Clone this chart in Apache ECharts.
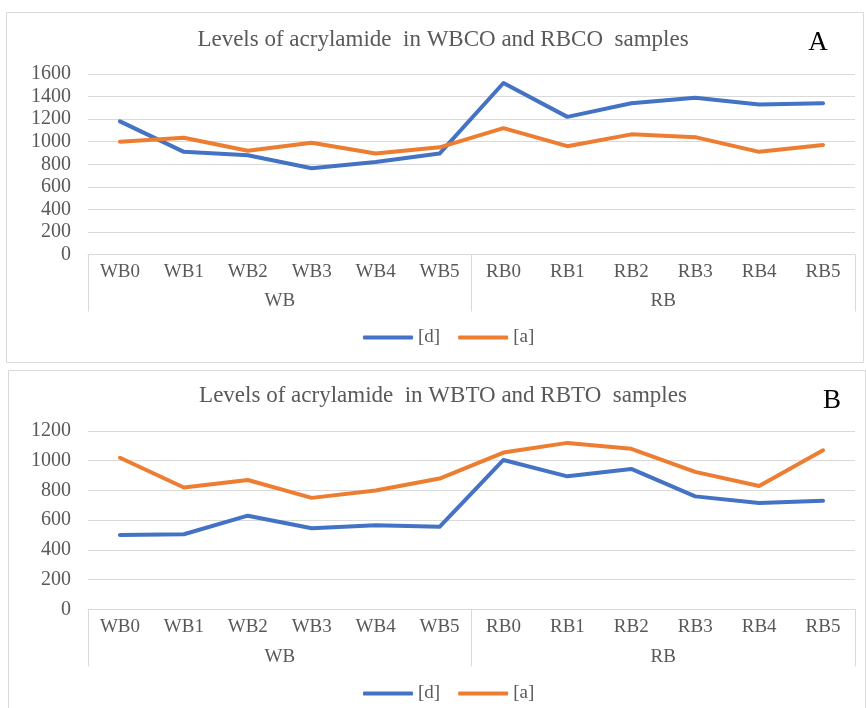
<!DOCTYPE html>
<html>
<head>
<meta charset="utf-8">
<script src="https://cdn.jsdelivr.net/npm/echarts@6/dist/echarts.min.js"></script>
<style>
    html, body { margin: 0; padding: 0; background: #fff; }
    #chart { width: 866px; height: 708px; }
</style>
</head>
<body>
<div id="chart"></div>
<script>
// categories
const categories = ["WB0", "WB1", "WB2", "WB3", "WB4", "WB5", "RB0", "RB1", "RB2", "RB3", "RB4", "RB5"];
const groups = ["WB", "RB"];
// panel A (WBCO / RBCO)
const coD = [1180, 910, 880, 765, 820, 895, 1520, 1220, 1340, 1390, 1330, 1340];
const coA = [1000, 1035, 920, 990, 895, 950, 1120, 960, 1065, 1040, 910, 970];
// panel B (WBTO / RBTO)
const toD = [500, 505, 630, 545, 565, 555, 1005, 895, 945, 760, 715, 730];
const toA = [1020, 820, 870, 750, 800, 880, 1055, 1120, 1080, 925, 830, 1070];

const FONT = "Liberation Serif";
const GREY = "#595959";
const LINE = "#d9d9d9";
const BLUE = "#4472C4";
const ORANGE = "#ED7D31";

function catAxis(grid) {
    return {
        type: "category",
        gridIndex: grid,
        data: categories,
        axisLine: { lineStyle: { color: LINE } },
        axisTick: { show: false },
        axisLabel: { color: GREY, fontFamily: FONT, fontSize: 19, margin: 8 },
    };
}

function groupAxis(grid, tickLen, margin) {
    return {
        type: "category",
        gridIndex: grid,
        position: "bottom",
        data: groups,
        axisLine: { show: false },
        axisTick: { show: true, length: tickLen, lineStyle: { color: LINE } },
        axisLabel: { color: GREY, fontFamily: FONT, fontSize: 19, margin: margin },
    };
}

function valAxis(grid, max) {
    return {
        type: "value",
        gridIndex: grid,
        min: 0,
        max: max,
        interval: 200,
        axisLine: { show: false },
        axisTick: { show: false },
        splitLine: { lineStyle: { color: LINE } },
        axisLabel: {
            color: GREY,
            fontFamily: FONT,
            fontSize: 20,
            margin: 17,
            formatter: (v) => String(v),
        },
    };
}

function lineSeries(name, color, x, y, data) {
    return {
        name: name,
        type: "line",
        xAxisIndex: x,
        yAxisIndex: y,
        symbol: "none",
        lineStyle: { color: color, width: 4, cap: "round", join: "round" },
        itemStyle: { color: color },
        data: data,
    };
}

function legend(top) {
    return {
        left: 358,
        top: top,
        data: ["[d]", "[a]"],
        icon: "roundRect",
        itemWidth: 50,
        itemHeight: 4,
        itemGap: 18,
        textStyle: { color: GREY, fontFamily: FONT, fontSize: 19 },
    };
}

function label(text, x, y, size, color) {
    return {
        type: "text",
        x: x,
        y: y,
        style: {
            text: text,
            fill: color,
            font: size + "px '" + FONT + "'",
            textAlign: "center",
            textVerticalAlign: "middle",
        },
    };
}

const option = {
    animation: false,
    grid: [
        { left: 88, right: 11, top: 74, height: 180.5 },
        { left: 88, right: 11, top: 431, height: 178.3 },
    ],
    xAxis: [
        catAxis(0),
        groupAxis(0, 57, 37),
        catAxis(1),
        groupAxis(1, 57, 38),
    ],
    yAxis: [
        valAxis(0, 1600),
        valAxis(1, 1200),
    ],
    legend: [
        legend(323),
        legend(679),
    ],
    graphic: [
        { type: "rect", shape: { x: 6.5, y: 12.5, width: 857, height: 350 }, style: { fill: null, stroke: LINE, lineWidth: 1 }, z: -1 },
        { type: "rect", shape: { x: 8.5, y: 370.5, width: 857, height: 345 }, style: { fill: null, stroke: LINE, lineWidth: 1 }, z: -1 },
        label("Levels of acrylamide  in WBCO and RBCO  samples", 443, 40, 23, GREY),
        label("Levels of acrylamide  in WBTO and RBTO  samples", 443, 396, 23, GREY),
        label("A", 818, 43, 27, "#000"),
        label("B", 832, 401, 27, "#000"),
    ],
    series: [
        lineSeries("[d]", BLUE, 0, 0, coD),
        lineSeries("[a]", ORANGE, 0, 0, coA),
        lineSeries("[d]", BLUE, 2, 1, toD),
        lineSeries("[a]", ORANGE, 2, 1, toA),
    ],
};

const chart = echarts.init(document.getElementById("chart"));
chart.setOption(option);
</script>
</body>
</html>
